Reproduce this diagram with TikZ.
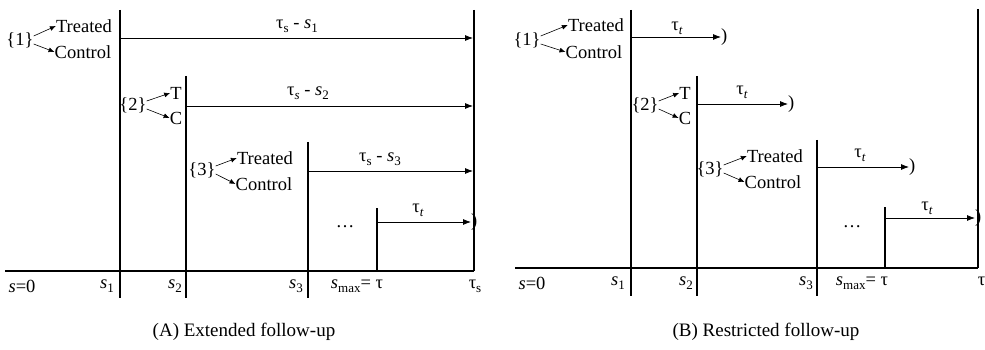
\documentclass[tikz,border=0pt]{standalone}
\usepackage{fontspec}
\setmainfont{Liberation Serif}
\usetikzlibrary{arrows.meta}
\newcommand{\lo}[1]{\raisebox{-0.45ex}{\fontsize{13}{13}\selectfont #1}}
\tikzset{
  lbl/.style={inner sep=0pt, font=\fontsize{18.5}{20}\selectfont},
  span/.style={-{Latex[length=8pt,width=6pt]}, line width=0.8pt},
  pick/.style={-{Latex[length=6pt,width=5pt]}, line width=0.6pt},
  entry/.style={line width=1.8pt},
  axisline/.style={line width=2.6pt}
}

\begin{document}
\begin{tikzpicture}[x=1pt,y=-1pt]
\useasboundingbox (0,0) rectangle (985,350);

% (A) extended follow-up
\draw[axisline] (5,271) -- (474,271);
\draw[entry] (474,10) -- (474,271);
\draw[entry] (120,10) -- (120,298);
\draw[entry] (186,76) -- (186,298);
\draw[entry] (308,142) -- (308,298);
\draw[entry] (377,208) -- (377,271);

\coordinate (a1) at (121,38);  \coordinate (e1) at (473,38);
\coordinate (a2) at (187,106); \coordinate (e2) at (473,106);
\coordinate (a3) at (309,171); \coordinate (e3) at (473,171);
\coordinate (a4) at (378,222); \coordinate (e4) at (471,222);
\draw[span] (a1) -- (e1);
\draw[span] (a2) -- (e2);
\draw[span] (a3) -- (e3);
\draw[span] (a4) -- (e4);
\node[lbl, anchor=west] (pa4) at (e4) {)};

\node[lbl] (ta1) at (297,26) {τ\lo{s} - \textit{s}\lo{1}};
\node[lbl] (ta2) at (308,93) {τ\lo{\textit{s}} - \textit{s}\lo{2}};
\node[lbl] (ta3) at (380,159) {τ\lo{s} - \textit{s}\lo{3}};
\node[lbl] (ta4) at (418,210) {τ\lo{\textit{t}}};

\node[lbl] (ga1) at (20,40) {\{1\}};
\node[lbl] (ya1) at (84,26) {Treated};
\node[lbl] (na1) at (83,52) {Control};
\draw[pick] ([yshift=4pt]ga1.east) -- (ya1.west);
\draw[pick] ([yshift=-4pt]ga1.east) -- (na1.west);

\node[lbl] (ga2) at (133,105) {\{2\}};
\node[lbl] (ya2) at (176,93) {T};
\node[lbl] (na2) at (176,118) {C};
\draw[pick] ([yshift=4pt]ga2.east) -- (ya2.west);
\draw[pick] ([yshift=-4pt]ga2.east) -- (na2.west);

\node[lbl] (ga3) at (202,170) {\{3\}};
\node[lbl] (ya3) at (265,158) {Treated};
\node[lbl] (na3) at (264,184) {Control};
\draw[pick] ([yshift=4pt]ga3.east) -- (ya3.west);
\draw[pick] ([yshift=-4pt]ga3.east) -- (na3.west);

\node[lbl] (da) at (345,227) {\dots};

\node[lbl] (xa0) at (22,286) {\textit{s}=0};
\node[lbl] (xa1) at (107,286) {\textit{s}\lo{1}};
\node[lbl] (xa2) at (175,286) {\textit{s}\lo{2}};
\node[lbl] (xa3) at (296,286) {\textit{s}\lo{3}};
\node[lbl] (xa4) at (357,286) {\textit{s}\lo{max}= τ};
\node[lbl] (xa5) at (475,286) {τ\lo{s}};

\node[lbl, font=\fontsize{19}{21}\selectfont] (capa) at (244,332) {(A) Extended follow-up};

% (B) restricted follow-up
\draw[axisline] (515,268) -- (978,268);
\draw[entry, line width=2.4pt] (978,9) -- (978,268);
\draw[entry] (631,10) -- (631,296);
\draw[entry] (697,76) -- (697,296);
\draw[entry] (817,140) -- (817,296);
\draw[entry] (885,207) -- (885,268);

\coordinate (b1) at (632,37);  \coordinate (f1) at (721,37);
\coordinate (b2) at (698,104); \coordinate (f2) at (788,104);
\coordinate (b3) at (818,167); \coordinate (f3) at (909,167);
\coordinate (b4) at (886,218); \coordinate (f4) at (975,218);
\draw[span] (b1) -- (f1);
\draw[span] (b2) -- (f2);
\draw[span] (b3) -- (f3);
\draw[span] (b4) -- (f4);
\node[lbl, anchor=west] (pb1) at (f1) {)};
\node[lbl, anchor=west] (pb2) at (f2) {)};
\node[lbl, anchor=west] (pb3) at (f3) {)};
\node[lbl, anchor=west] (pb4) at (f4) {)};

\node[lbl] (tb1) at (677,28) {τ\lo{\textit{t}}};
\node[lbl] (tb2) at (742,92) {τ\lo{\textit{t}}};
\node[lbl] (tb3) at (860,155) {τ\lo{\textit{t}}};
\node[lbl] (tb4) at (927,208) {τ\lo{\textit{t}}};

\node[lbl] (gb1) at (527,40) {\{1\}};
\node[lbl] (yb1) at (596,25) {Treated};
\node[lbl] (nb1) at (594,52) {Control};
\draw[pick] ([yshift=4pt]gb1.east) -- (yb1.west);
\draw[pick] ([yshift=-4pt]gb1.east) -- (nb1.west);

\node[lbl] (gb2) at (645,105) {\{2\}};
\node[lbl] (yb2) at (685,93) {T};
\node[lbl] (nb2) at (685,118) {C};
\draw[pick] ([yshift=4pt]gb2.east) -- (yb2.west);
\draw[pick] ([yshift=-4pt]gb2.east) -- (nb2.west);

\node[lbl] (gb3) at (710,169) {\{3\}};
\node[lbl] (yb3) at (775,156) {Treated};
\node[lbl] (nb3) at (773,182) {Control};
\draw[pick] ([yshift=4pt]gb3.east) -- (yb3.west);
\draw[pick] ([yshift=-4pt]gb3.east) -- (nb3.west);

\node[lbl] (db) at (852,227) {\dots};

\node[lbl] (xb0) at (532,283) {\textit{s}=0};
\node[lbl] (xb1) at (618,283) {\textit{s}\lo{1}};
\node[lbl] (xb2) at (686,283) {\textit{s}\lo{2}};
\node[lbl] (xb3) at (806,283) {\textit{s}\lo{3}};
\node[lbl] (xb4) at (862,283) {\textit{s}\lo{max}= τ};
\node[lbl] (xb5) at (984,283) {τ\lo{s}};

\node[lbl, font=\fontsize{19}{21}\selectfont] (capb) at (766,332) {(B) Restricted follow-up};
\end{tikzpicture}
\end{document}
